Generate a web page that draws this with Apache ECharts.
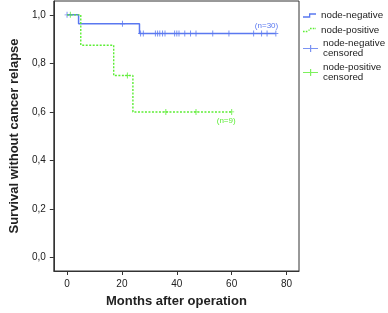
<!DOCTYPE html>
<html>
<head>
<meta charset="utf-8">
<script src="https://cdn.jsdelivr.net/npm/echarts@6/dist/echarts.min.js"></script>
<style>
  html, body { margin: 0; padding: 0; background: #fff; }
  #chart { width: 388px; height: 313px; }
</style>
</head>
<body>
<div id="chart"></div>
<script>
// Kaplan-Meier steps
const negTimes = [0, 4.2, 26.4, 76]
const negSurv = [1, 0.963, 0.923, 0.923]
const posTimes = [0, 5, 17, 24, 60]
const posSurv = [1, 0.875, 0.75, 0.6, 0.6]

// censored observations (months)
const negCensored = [0, 20.2, 26.8, 27.8, 32.2, 33.0, 33.8, 34.8, 35.7, 39.2, 40.0, 40.8,
  42.9, 45.0, 47.0, 53.1, 59.0, 68.0, 70.9, 72.9, 76.1]
const posCensored = [1.2, 22, 36, 47, 60]

const xTicks = [0, 20, 40, 60, 80]
const yTicks = [0, 0.2, 0.4, 0.6, 0.8, 1.0]

const BLUE = '#5a78f0'
const GREEN = '#5ced35'
const INK = '#222'

// survival level at time t for a step curve
const levelAt = (times, surv, t) => {
  let v = surv[0]
  for (let i = 0; i < times.length; i++) {
    if (times[i] <= t) v = surv[i]
  }
  return v
}

const stepIcon = 'path://M0,3 L6,3 L6,0 L13,0 L13,1.3 L7.3,1.3 L7.3,4.3 L0,4.3 Z'
const dotIcon = 'path://M0,3h1.6v1.3h-1.6z M2.8,3h1.6v1.3h-1.6z M5.4,1.7h1.3v1.3h-1.3z M7,0h1.6v1.3h-1.6z M9.8,0h1.6v1.3h-1.6z M12.4,0h0.6v1.3h-0.6z M0,4.2h0v0z'
const plusIcon = 'path://M0,3 L7,3 L7,0 L8.2,0 L8.2,3 L15,3 L15,4.2 L8.2,4.2 L8.2,7.2 L7,7.2 L7,4.2 L0,4.2 Z'
const censorSymbol = 'path://M0,3 L2,3 L2,0 L3,0 L3,3 L5,3 L5,4 L3,4 L3,7 L2,7 L2,4 L0,4 Z'

const legendBase = {
  orient: 'vertical',
  left: 303,
  padding: 0,
  itemGap: 0,
  textStyle: { fontFamily: 'Liberation Sans, Arial', fontSize: 9.8, color: INK, lineHeight: 10 },
  selectedMode: false
}

const chart = echarts.init(document.getElementById('chart'))

const option = {
  animation: false,
  legend: [
    { ...legendBase, top: 10.5, itemWidth: 13, itemHeight: 4.3, itemTextGap: 6.5,
      data: [{ name: 'node-negative', icon: stepIcon, itemStyle: { color: BLUE } }] },
    { ...legendBase, top: 25, itemWidth: 13, itemHeight: 4.3, itemTextGap: 6.5,
      data: [{ name: 'node-positive', icon: dotIcon, itemStyle: { color: GREEN } }] },
    { ...legendBase, top: 38.5, itemWidth: 15, itemHeight: 7.2, itemTextGap: 4.5,
      data: [{ name: 'node-negative\ncensored', icon: plusIcon, itemStyle: { color: BLUE } }] },
    { ...legendBase, top: 62.5, itemWidth: 15, itemHeight: 7.2, itemTextGap: 4.5,
      data: [{ name: 'node-positive\ncensored', icon: plusIcon, itemStyle: { color: GREEN } }] }
  ],
  grid: {
    left: 43.5,
    right: 89,
    top: 1,
    bottom: 38.7,
    show: true,
    borderColor: '#333',
    borderWidth: 1
  },
  xAxis: {
    type: 'value',
    min: -4.83,
    max: 84.54,
    name: 'Months after operation',
    nameLocation: 'middle',
    nameGap: 24,
    nameTextStyle: { fontFamily: 'Liberation Sans, Arial', fontSize: 13, fontWeight: 'bold', color: INK },
    axisLine: { onZero: false, lineStyle: { color: '#333' } },
    axisTick: { length: 4, customValues: xTicks, lineStyle: { color: '#333' } },
    axisLabel: {
      customValues: xTicks,
      margin: 8,
      fontFamily: 'Liberation Sans, Arial',
      fontSize: 10,
      color: INK
    },
    splitLine: { show: false }
  },
  yAxis: {
    type: 'value',
    min: -0.0553,
    max: 1.057,
    name: 'Survival without cancer relapse',
    nameLocation: 'middle',
    nameGap: 30,
    nameTextStyle: { fontFamily: 'Liberation Sans, Arial', fontSize: 13, fontWeight: 'bold', color: INK },
    axisLine: { show: true, onZero: false, lineStyle: { color: '#333' } },
    axisTick: { show: true, length: 4, customValues: yTicks, lineStyle: { color: '#333' } },
    axisLabel: {
      customValues: yTicks,
      margin: 8,
      fontFamily: 'Liberation Sans, Arial',
      fontSize: 10,
      color: INK,
      formatter: (v) => v.toFixed(1).replace('.', ',')
    },
    splitLine: { show: false }
  },
  series: [
    {
      name: 'node-negative',
      type: 'line',
      step: 'end',
      symbol: 'none',
      data: negTimes.map((t, i) => [t, negSurv[i]]),
      lineStyle: { color: BLUE, width: 1.5 },
      itemStyle: { color: BLUE },
      markPoint: {
        symbol: 'circle',
        symbolSize: 0,
        label: { show: true, formatter: '(n=30)', color: BLUE, fontSize: 8, fontFamily: 'Liberation Sans, Arial' },
        data: [{ coord: [72.7, 0.955] }]
      }
    },
    {
      name: 'node-positive',
      type: 'line',
      step: 'end',
      symbol: 'none',
      data: posTimes.map((t, i) => [t, posSurv[i]]),
      lineStyle: { color: GREEN, width: 1.4, type: [2, 1.5] },
      itemStyle: { color: GREEN },
      markPoint: {
        symbol: 'circle',
        symbolSize: 0,
        label: { show: true, formatter: '(n=9)', color: GREEN, fontSize: 8, fontFamily: 'Liberation Sans, Arial' },
        data: [{ coord: [58, 0.565] }]
      }
    },
    {
      name: 'node-negative\ncensored',
      type: 'scatter',
      symbol: censorSymbol,
      symbolSize: [5, 6],
      itemStyle: { color: BLUE },
      data: negCensored.map(t => [t, levelAt(negTimes, negSurv, t)])
    },
    {
      name: 'node-positive\ncensored',
      type: 'scatter',
      symbol: censorSymbol,
      symbolSize: [5, 6],
      itemStyle: { color: GREEN },
      data: posCensored.map(t => [t, levelAt(posTimes, posSurv, t)])
    }
  ]
}

chart.setOption(option)
</script>
</body>
</html>
